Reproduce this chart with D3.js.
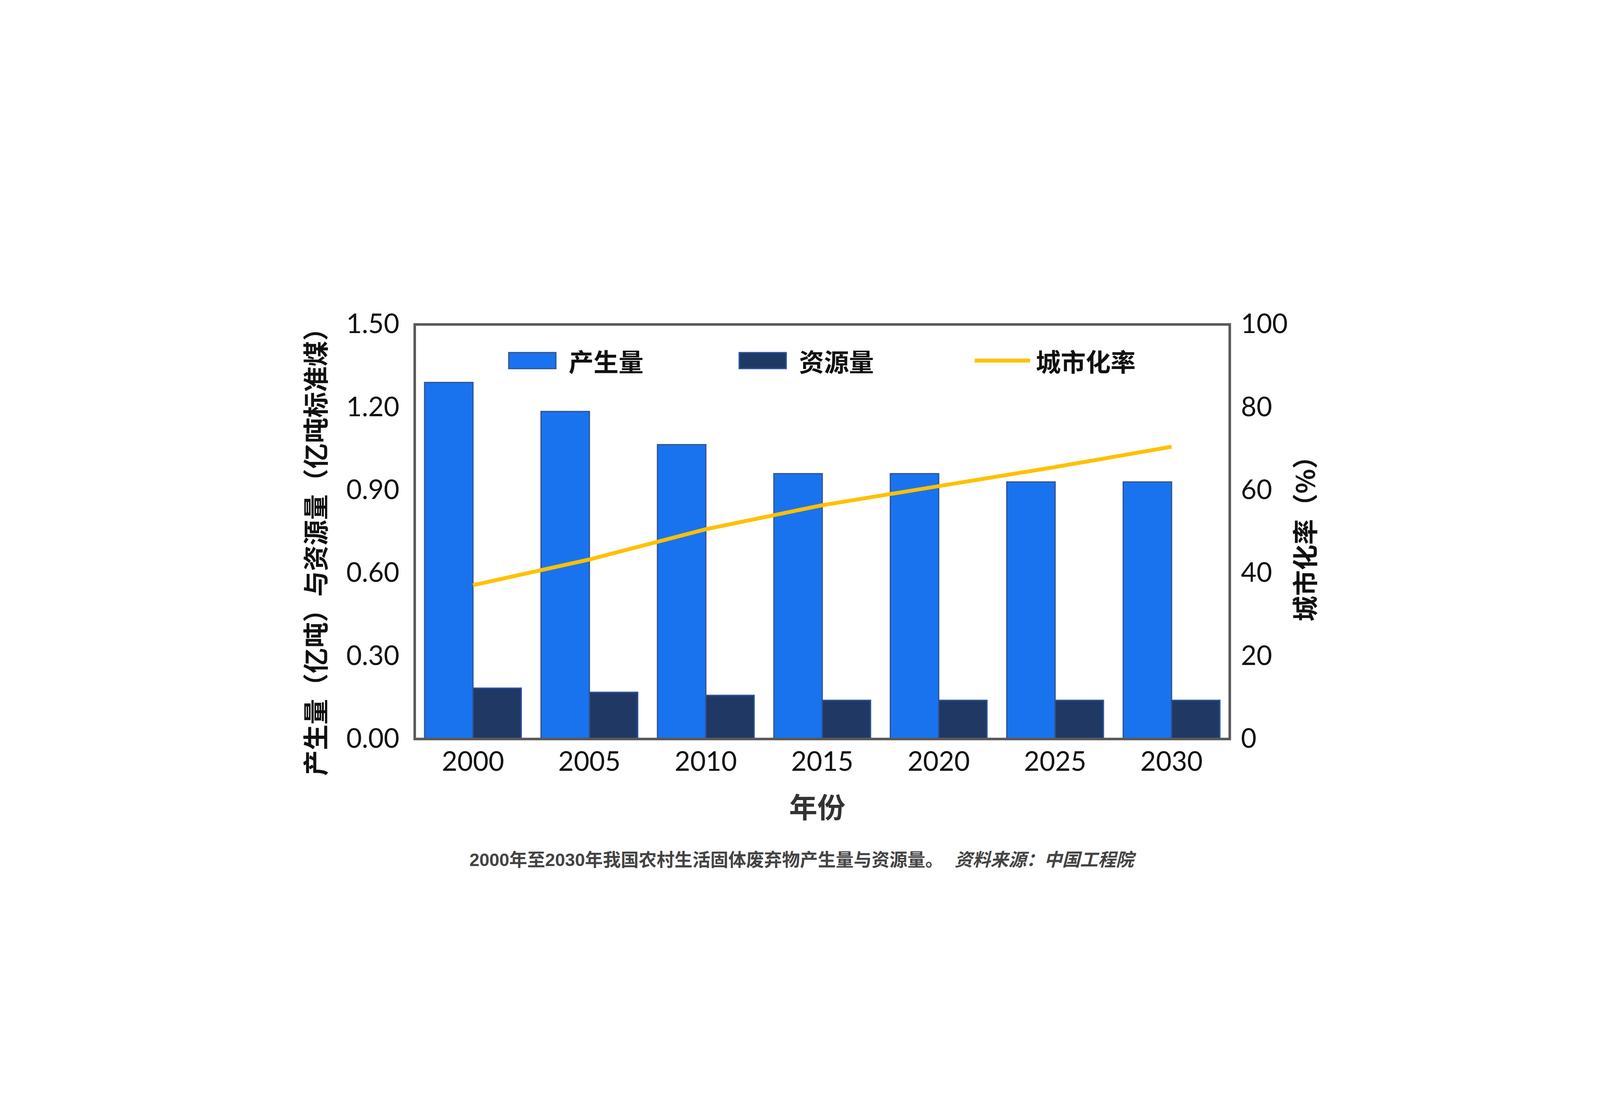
<!DOCTYPE html>
<html><head><meta charset="utf-8">
<script src="https://cdn.jsdelivr.net/npm/d3@7"></script>
<style>html,body{margin:0;padding:0;background:#fff;overflow:hidden}svg{display:block;width:100vw;height:100vh}</style></head>
<body><svg id="c" viewBox="0 0 5000 2812" preserveAspectRatio="xMidYMid meet"></svg>
<script>
const years = ["2000","2005","2010","2015","2020","2025","2030"];
const production = [1.29,1.185,1.065,0.96,0.96,0.93,0.93];
const resource = [0.184,0.169,0.158,0.14,0.14,0.14,0.14];
const urbanRate = [37.1,43.3,50.6,56.4,61.0,65.6,70.5];
const leftTicks = [0,0.3,0.6,0.9,1.2,1.5];
const rightTicks = [0,20,40,60,80,100];

const svg = d3.select("#c");
const L=1296,R=3843,T=704,B=2000;
const x = d3.scaleBand().domain(years).range([L,R]).paddingInner(0.17).paddingOuter(0.085);
const xs = d3.scaleBand().domain(["p","r"]).range([0,x.bandwidth()]);
const y = d3.scaleLinear().domain([0,1.5]).range([B,T]);
const y2 = d3.scaleLinear().domain([0,100]).range([B,T]);
const numFont = "Lato";

const g = svg.append("g");
g.selectAll(".p").data(years).join("rect")
 .attr("x",d=>x(d)+xs("p")).attr("width",xs.bandwidth())
 .attr("y",(d,i)=>y(production[i])).attr("height",(d,i)=>B-y(production[i]))
 .attr("fill","#1A73EE").attr("stroke","#2F5597").attr("stroke-width",4);
g.selectAll(".r").data(years).join("rect")
 .attr("x",d=>x(d)+xs("r")).attr("width",xs.bandwidth())
 .attr("y",(d,i)=>y(resource[i])).attr("height",(d,i)=>B-y(resource[i]))
 .attr("fill","#203864").attr("stroke","#2F5597").attr("stroke-width",4);

const line = d3.line().x(d=>x(d[0])+x.bandwidth()/2).y(d=>y2(d[1]));
svg.append("path").datum(years.map((d,i)=>[d,urbanRate[i]])).attr("d",line)
 .attr("fill","none").attr("stroke","#FFC000").attr("stroke-width",12);

svg.append("rect").attr("x",L).attr("y",T).attr("width",R-L).attr("height",B-T)
 .attr("fill","none").attr("stroke","#595959").attr("stroke-width",8);

const axL = svg.append("g").attr("transform",`translate(${L},0)`)
 .call(d3.axisLeft(y).tickValues(leftTicks).tickFormat(d3.format(".2f")).tickSize(0).tickPadding(48));
const axR = svg.append("g").attr("transform",`translate(${R},0)`)
 .call(d3.axisRight(y2).tickValues(rightTicks).tickSize(0).tickPadding(35));
const axB = svg.append("g").attr("transform",`translate(0,${B})`)
 .call(d3.axisBottom(x).tickSize(0).tickPadding(40));
[axL,axR,axB].forEach(a=>{a.select(".domain").remove();
 a.selectAll("text").attr("font-family",numFont).attr("font-weight",400).attr("font-size",84).attr("fill","#111");});

const cjk = "'Noto Sans CJK SC'";
const ly = 817;
const leg = [
 {t:"产生量",x:1590,type:"rect",c:"#1A73EE"},
 {t:"资源量",x:2310,type:"rect",c:"#203864"},
 {t:"城市化率",x:3046,type:"line",c:"#FFC000"}];
leg.forEach(l=>{
 if(l.type==="rect") svg.append("rect").attr("x",l.x).attr("y",ly-25).attr("width",147).attr("height",50)
   .attr("fill",l.c).attr("stroke","#2F5597").attr("stroke-width",4);
 else svg.append("line").attr("x1",l.x).attr("x2",l.x+173).attr("y1",ly).attr("y2",ly).attr("stroke",l.c).attr("stroke-width",12);
 svg.append("text").attr("x",l.x+(l.type==="rect"?187:191)).attr("y",ly).attr("dominant-baseline","central")
  .attr("font-family",cjk).attr("font-weight",700).attr("font-size",78).attr("fill","#111").text(l.t);
});

svg.append("text").attr("transform","translate(982,1395) rotate(-90)").attr("text-anchor","middle")
 .attr("dominant-baseline","central").attr("font-family",cjk).attr("font-weight",700).attr("font-size",80).attr("fill","#111")
 .text("产生量（亿吨）与资源量（亿吨标准煤）");
svg.append("text").attr("transform","translate(4074,1354) rotate(-90)").attr("text-anchor","middle")
 .attr("dominant-baseline","central").attr("font-family",cjk).attr("font-weight",700).attr("font-size",80).attr("fill","#111")
 .text("城市化率（%）");
svg.append("text").attr("x",2554).attr("y",2208).attr("text-anchor","middle").attr("dominant-baseline","central")
 .attr("font-family",cjk).attr("font-weight",700).attr("font-size",88).attr("fill","#333").text("年份");

const cap = svg.append("text").attr("x",2505).attr("y",2378).attr("text-anchor","middle").attr("dominant-baseline","central")
 .attr("font-family","'Liberation Sans', "+cjk).attr("font-weight",700).attr("font-size",56).attr("fill","#444");
cap.append("tspan").text("2000年至2030年我国农村生活固体废弃物产生量与资源量。 ");
cap.append("tspan").attr("font-style","italic").attr("dx",20).text("资料来源：中国工程院");
</script></body></html>
